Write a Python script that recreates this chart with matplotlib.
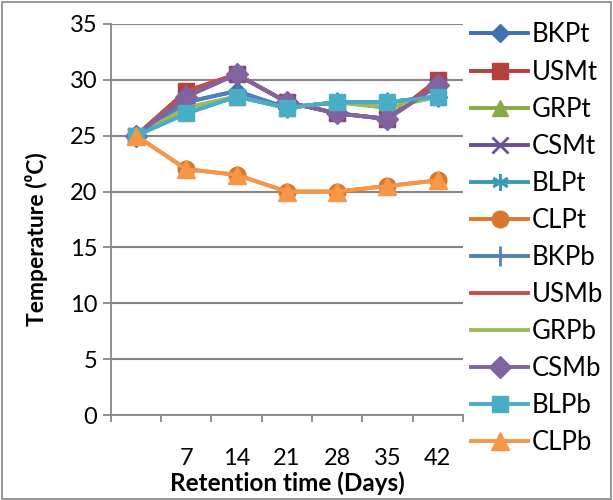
import matplotlib.pyplot as plt
from matplotlib.patches import Rectangle

plt.rcParams['font.family'] = ['Lato', 'DejaVu Sans']

days = ['', '7', '14', '21', '28', '35', '42']

names = ['BKPt', 'USMt', 'GRPt', 'CSMt', 'BLPt', 'CLPt',
         'BKPb', 'USMb', 'GRPb', 'CSMb', 'BLPb', 'CLPb']

bkpt = [25, 28, 29, 27.5, 28, 28, 28.5]
usmt = [25, 29, 30.5, 28, 27, 26.5, 30]
grpt = [25, 27.5, 28.5, 27.5, 28, 27.5, 28.5]
csmt = [25, 28.5, 30.5, 28, 27, 26.5, 29.5]
blpt = [25, 27, 28.5, 27.5, 28, 28, 28.5]
clpt = [25, 22, 21.5, 20, 20, 20.5, 21]
bkpb = [25, 28, 29, 27.5, 28, 28, 28.5]
usmb = [25, 29, 30.5, 28, 27, 26.5, 30]
grpb = [25, 27.5, 28.5, 27.5, 28, 27.5, 28.5]
csmb = [25, 28.5, 30.5, 28, 27, 26.5, 29.5]
blpb = [25, 27, 28.5, 27.5, 28, 28, 28.5]
clpb = [25, 22, 21.5, 20, 20, 20.5, 21]

series = [bkpt, usmt, grpt, csmt, blpt, clpt,
          bkpb, usmb, grpb, csmb, blpb, clpb]

colors = ['#3E70B2', '#B5413E', '#86AB45', '#6A5193', '#3A9AB3', '#D8782F',
          '#4F81BD', '#C0504D', '#9BBB59', '#8064A2', '#4BACC6', '#F79646']
markers = ['D', 's', '^', 'x', (6, 2, 0), 'o', '|', None, None, 'D', 's', '^']
msizes = [9, 12, 12, 11, 12, 12, 14, 0, 0, 11, 12, 13]

fig = plt.figure(figsize=(6.13, 5.0), dpi=100)
ax = fig.add_axes([0.181, 0.17, 0.574, 0.782])

x = list(range(len(days)))
for name, ys, c, m, ms in zip(names, series, colors, markers, msizes):
    thin = m in ('x', '|') or isinstance(m, tuple)
    ax.plot(x, ys, color=c, lw=2.8, marker=m, ms=ms, mew=2 if thin else 1,
            label=name)

ax.set_xlim(-0.5, 6.5)
ax.set_ylim(0, 35)
ax.set_yticks(range(0, 36, 5))
ax.yaxis.grid(True, color='#868686', lw=1.5)
ax.set_axisbelow(True)

ax.set_xticks([i - 0.5 for i in range(len(days) + 1)])
ax.set_xticklabels([])
ax.set_xticks(x, minor=True)
ax.set_xticklabels(days, minor=True)
ax.tick_params(axis='x', which='minor', length=0, pad=23.5, labelsize=17)
ax.tick_params(axis='x', which='major', length=5, color='#868686', width=1.3)
ax.tick_params(axis='y', length=6, color='#868686', width=1.3, labelsize=17, pad=4)

for s in ['top', 'right']:
    ax.spines[s].set_visible(False)
for s in ['left', 'bottom']:
    ax.spines[s].set_color('#868686')
    ax.spines[s].set_linewidth(1.3)

ax.set_xlabel('Retention time (Days)', fontsize=17.5, fontweight='bold')
ax.xaxis.set_label_coords(0.5, -0.145)
ax.set_ylabel('Temperature (\u2070C)', fontsize=16.5, fontweight='bold')
ax.yaxis.set_label_coords(-0.18, 0.45)

ax.legend(loc='upper left', bbox_to_anchor=(1.01, 1.017), frameon=False,
          fontsize=18.5, handlelength=2.2, labelspacing=0.47, handletextpad=0.15,
          borderaxespad=0.0, borderpad=0.2)

fig.patches.append(Rectangle((0.003, 0.003), 0.994, 0.994, transform=fig.transFigure,
                             fill=False, edgecolor='#868686', lw=1.2))

fig.savefig('out.png', dpi=100)
